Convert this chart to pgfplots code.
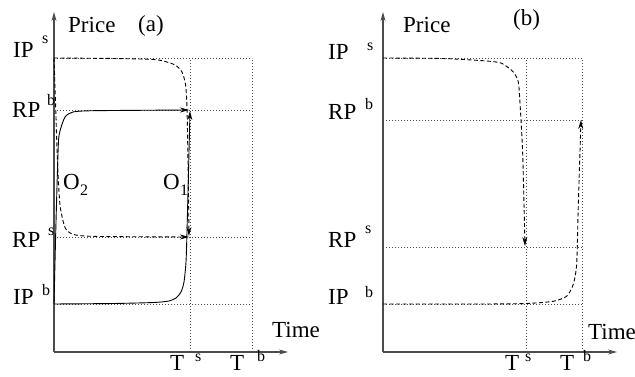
\documentclass[border=0pt]{standalone}
\usepackage{fontspec}
\setmainfont{Liberation Serif}
\usepackage{pgfplots}
\pgfplotsset{compat=1.18}
\usetikzlibrary{arrows.meta}
\begin{document}
\begin{tikzpicture}[x=1pt,y=1pt]
\useasboundingbox (0,0) rectangle (635,377);
\pgfplotsset{
 panel/.style={x=1pt,y=1pt, xmin=0,xmax=234,ymin=0,ymax=340,
   axis lines=left,
   axis line style={black!70, line width=1.1pt, -{Stealth[length=9pt,width=5pt]}},
   xtick=\empty, ytick=\empty, clip=false, anchor=south west},
 grd/.style={black!70, line width=0.9pt, dash pattern=on 1pt off 2pt, forget plot},
 cur/.style={black, line width=0.9pt, no marks, smooth, tension=0.4},
 dsh/.style={cur, dash pattern=on 4pt off 2.5pt},
 arr/.style={-{Stealth[length=9pt,width=5pt]}},
}
\tikzset{
 lbl/.style={anchor=base west, font=\fontsize{23}{27}\selectfont, inner sep=0pt},
 sup/.style={anchor=base west, font=\fontsize{16}{19}\selectfont, inner sep=0pt},
}
% ---------- panel (a) ----------
\begin{axis}[panel, at={(54,25)}]
\addplot[grd] coordinates {(0,294) (198,294)};
\addplot[grd] coordinates {(0,242) (198,242)};
\addplot[grd] coordinates {(0,115) (198,115)};
\addplot[grd] coordinates {(0,48) (198,48)};
\addplot[grd] coordinates {(136,0) (136,294)};
\addplot[grd] coordinates {(198,0) (198,294)};
% seller O1 (dashed)
\addplot[dsh, arr] coordinates {(0,294) (60,293.5) (100,292.5) (113,290) (122,286.5) (128,280) (131.5,268) (132.8,250) (133.5,220) (134.5,160) (135,116)};
% buyer O1 (solid)
\addplot[cur, arr] coordinates {(0,48) (60,48.5) (100,49.5) (115,51) (122,54) (127,60) (130,70) (132,90) (133,120) (134.5,180) (136,241)};
% buyer O2 (solid)
\addplot[cur, arr] coordinates {(0,48) (2,130) (4.3,207) (6,221) (11,235) (19,240) (40,241.3) (135,242)};
% seller O2 (dashed)
\addplot[dsh, arr] coordinates {(0,294) (1.5,250) (3.5,190) (6,147) (11,124.5) (19,117.7) (40,115.6) (135,115)};
\node[lbl] at (axis cs:14,319) {Price};
\node[lbl] at (axis cs:84,320) {(a)};
\node[lbl] at (axis cs:-41,294) {IP};  \node[sup] at (axis cs:-12,308) {s};
\node[lbl] at (axis cs:-42,234) {RP};  \node[sup] at (axis cs:-7,246) {b};
\node[lbl] at (axis cs:-42,104) {RP};  \node[sup] at (axis cs:-6,116) {s};
\node[lbl] at (axis cs:-41,47) {IP};   \node[sup] at (axis cs:-12,56) {b};
\node[lbl] at (axis cs:116,-19) {T};   \node[sup] at (axis cs:141,-10) {s};
\node[lbl] at (axis cs:176,-19) {T};   \node[sup] at (axis cs:203,-10) {b};
\node[lbl] at (axis cs:218,14) {Time};
\node[lbl] at (axis cs:9,162) {O};     \node[sup] at (axis cs:26,156) {2};
\node[lbl] at (axis cs:109,162) {O};   \node[sup] at (axis cs:126,156) {1};
\end{axis}
% ---------- panel (b) ----------
\begin{axis}[panel, at={(383,25)}]
\addplot[grd] coordinates {(0,294) (199,294)};
\addplot[grd] coordinates {(0,232) (199,232)};
\addplot[grd] coordinates {(0,105) (199,105)};
\addplot[grd] coordinates {(0,48) (199,48)};
\addplot[grd] coordinates {(143,0) (143,294)};
\addplot[grd] coordinates {(199,0) (199,294)};
% seller (dashed)
\addplot[dsh, arr] coordinates {(0,294) (60,293.5) (103.7,291) (118.7,288.7) (130.3,280) (135.3,270) (137,249) (139.7,198) (142,106)};
% buyer (dashed)
\addplot[dsh, arr] coordinates {(0,48) (100,48) (143.7,48.5) (170.3,50.7) (183.7,55.8) (190.3,67.8) (193.7,88.4) (195.3,146.6) (198,232)};
\node[lbl] at (axis cs:20,319) {Price};
\node[lbl] at (axis cs:130,326) {(b)};
\node[lbl] at (axis cs:-55,292) {IP};  \node[sup] at (axis cs:-16,301) {s};
\node[lbl] at (axis cs:-55,232) {RP};  \node[sup] at (axis cs:-18,242) {b};
\node[lbl] at (axis cs:-55,104) {RP};  \node[sup] at (axis cs:-18,118) {s};
\node[lbl] at (axis cs:-55,47) {IP};   \node[sup] at (axis cs:-18,54) {b};
\node[lbl] at (axis cs:122,-19) {T};   \node[sup] at (axis cs:142,-10) {s};
\node[lbl] at (axis cs:177,-19) {T};   \node[sup] at (axis cs:200,-10) {b};
\node[lbl] at (axis cs:205,12) {Time};
\end{axis}
\end{tikzpicture}
\end{document}
